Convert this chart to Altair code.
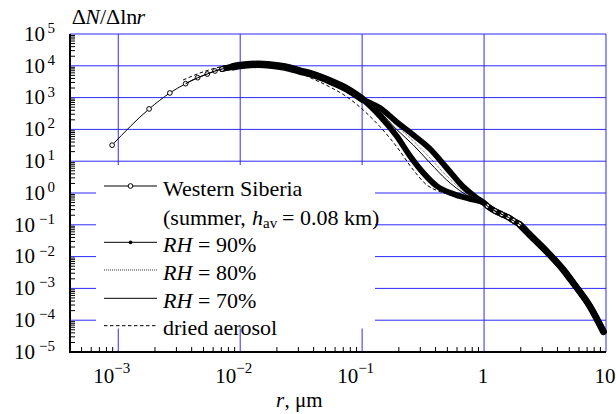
import altair as alt
import pandas as pd

# Plot-area size in pixels
W, H = 536, 318
FONT = "'Liberation Serif', 'Times New Roman', Times, serif"
BLUE = "#2b2bff"

# ---- size distributions: radius r (µm) and ΔN/Δln r ----
# Western Siberia, first (well separated) measurement points
ws_head_r = [0.00089, 0.00179, 0.00265, 0.00357, 0.00448, 0.00537, 0.00621, 0.00710]
ws_head_n = [32, 440, 1400, 2740, 4230, 5520, 6860, 7920]

# branch shared by the measured and the humidified spectra (r <= 0.1 µm)
core_r = [0.00873, 0.0109, 0.0140, 0.0176, 0.0233, 0.0309, 0.0396, 0.0545, 0.0752, 0.100]
core_n = [9380, 10600, 11100, 10600, 9160, 6860, 5320, 3330, 1860, 904]

# Western Siberia between 0.1 and 1 µm
ws_mid_r = [0.140, 0.192, 0.247, 0.318, 0.409, 0.560, 0.767]
ws_mid_n = [264, 62, 14.6, 4.26, 1.66, 0.93, 0.65]

# humidified spectra between 0.1 and 1 µm
rh_mid_r = [0.140, 0.192, 0.263, 0.361, 0.494, 0.676, 0.871]
rh90_mid_n = [471, 171, 66.7, 24.2, 6.11, 1.55, 0.697]
rh80_mid_n = [407, 128, 43.2, 12.6, 3.43, 1.16, 0.65]
rh70_mid_n = [352, 99, 32.3, 8.77, 2.56, 1.0, 0.60]

# coarse mode, common to all curves (r >= 1 µm)
tail_r = [1.0, 1.064, 1.23, 1.397, 1.58, 1.74, 1.95, 2.38, 3.27, 4.48, 5.41, 7.41, 9.53]
tail_n = [0.485, 0.390, 0.272, 0.214, 0.172, 0.135, 0.104, 0.0478, 0.0143,
          0.00379, 0.00145, 0.000266, 0.0000435]

# dried aerosol
dry_r = [0.00340, 0.00468, 0.00682, 0.00995, 0.0140, 0.0193, 0.0282, 0.0396, 0.0545,
         0.0752, 0.102, 0.140, 0.192, 0.263, 0.339, 0.436, 0.676, 1.0]
dry_n = [3575, 5940, 9170, 11400, 11800, 10600, 6860, 3850, 2150,
         1045, 407, 122, 28.6, 5.29, 1.79, 1.10, 0.733, 0.521]

# ---- axes: decades and minor ticks ----
x_decades = [0.001, 0.01, 0.1, 1, 10]
x_exp_pos = [0.001, 0.01, 0.1]
x_exp_lab = ["\u22123", "\u22122", "\u22121"]
x_plain_pos = [1, 10]
x_plain_lab = ["1", "10"]
y_exps = list(range(-5, 6))
x_minor = [k * 10.0 ** d for d in range(-4, 1) for k in range(2, 10) if 4.02e-4 < k * 10.0 ** d < 10]
y_minor = [k * 10.0 ** d for d in range(-5, 5) for k in range(2, 10)]


def frame(r, n):
    return pd.DataFrame({"r": r, "n": n})


ws_df = frame(ws_head_r + core_r + ws_mid_r + tail_r, ws_head_n + core_n + ws_mid_n + tail_n)
rh_r = ws_head_r[3:] + core_r + rh_mid_r + tail_r
rh90_df = frame(rh_r, ws_head_n[3:] + core_n + rh90_mid_n + tail_n)
rh80_df = frame(rh_r, ws_head_n[3:] + core_n + rh80_mid_n + tail_n)
rh70_df = frame(rh_r, ws_head_n[3:] + core_n + rh70_mid_n + tail_n)
dry_df = frame(dry_r + tail_r[1:], dry_n + tail_n[1:])

xs = alt.Scale(type="log", domain=[4.02e-4, 10], nice=False)
ys = alt.Scale(type="log", domain=[1e-5, 1e5], nice=False)


def X(f="r"):
    return alt.X(f"{f}:Q", scale=xs, axis=None)


def Y(f="n"):
    return alt.Y(f"{f}:Q", scale=ys, axis=None)


one = pd.DataFrame({"k": [0]})


def txt(s, x, y, size=22, style="normal", align="left"):
    return alt.Chart(one).mark_text(
        text=s, font=FONT, fontSize=size, fontStyle=style, align=align,
        baseline="alphabetic", color="black"
    ).encode(x=alt.value(x), y=alt.value(y))


# grid
grid_v = alt.Chart(pd.DataFrame({"v": x_decades})).mark_rule(color=BLUE, strokeWidth=1).encode(x=X("v"))
grid_h = alt.Chart(pd.DataFrame({"v": [10.0 ** e for e in y_exps if e > -5]})).mark_rule(
    color=BLUE, strokeWidth=1).encode(y=Y("v"))

# legend background
legend_box = alt.Chart(one).mark_rect(fill="white").encode(
    x=alt.value(26), x2=alt.value(305), y=alt.value(131), y2=alt.value(294.5))

# inward minor ticks and the black axis lines
tick_x = alt.Chart(pd.DataFrame({"v": x_minor})).mark_rule(color="black", strokeWidth=1).encode(
    x=X("v"), y=alt.value(H - 5), y2=alt.value(H))
tick_y = alt.Chart(pd.DataFrame({"v": y_minor})).mark_rule(color="black", strokeWidth=1).encode(
    y=Y("v"), x=alt.value(0), x2=alt.value(5))
axis_l = alt.Chart(one).mark_rule(color="black", strokeWidth=2).encode(
    x=alt.value(0), y=alt.value(0), y2=alt.value(H + 1))
axis_b = alt.Chart(one).mark_rule(color="black", strokeWidth=2).encode(
    y=alt.value(H), x=alt.value(-1), x2=alt.value(W))

# curves (densely plotted markers merge into thick bands)
smooth = "monotone"


def band(width):
    return dict(color="black", strokeWidth=width, strokeJoin="round", strokeCap="round",
                interpolate=smooth)


rh90_band = alt.Chart(rh90_df).transform_filter("datum.r >= 0.007").mark_line(**band(5.8)).encode(X(), Y())
ws_band = alt.Chart(ws_df).transform_filter("datum.r >= 0.007").mark_line(**band(5.8)).encode(X(), Y())
# where several spectra overlap, the marker band is wider
core_band = alt.Chart(ws_df).transform_filter("datum.r >= 0.0087 && datum.r <= 0.1").mark_line(
    **band(7.5)).encode(X(), Y())
tail_band = alt.Chart(ws_df).transform_filter("datum.r >= 1.9").mark_line(**band(6.8)).encode(X(), Y())
ws_line = alt.Chart(ws_df).mark_line(color="black", strokeWidth=1, interpolate=smooth).encode(X(), Y())
ws_pts = alt.Chart(ws_df).transform_filter(
    "datum.r < 0.0075 || (datum.r > 1.01 && datum.r < 2)"
).mark_circle(fill="white", stroke="black", strokeWidth=1, size=22, opacity=1).encode(X(), Y())
rh80_line = alt.Chart(rh80_df).mark_line(
    color="#222", strokeWidth=0.8, strokeDash=[1, 1], interpolate=smooth).encode(X(), Y())
rh70_line = alt.Chart(rh70_df).mark_line(color="black", strokeWidth=1, interpolate=smooth).encode(X(), Y())
dry_line = alt.Chart(dry_df).mark_line(
    color="black", strokeWidth=1, strokeDash=[3.5, 2.5], interpolate=smooth).encode(X(), Y())

# legend
LX0, LX1, LTX = 34, 87, 93
rows = [152, 208.3, 236, 264.3, 291.7]


def seg(y, **kw):
    return alt.Chart(one).mark_rule(color="black", **kw).encode(
        x=alt.value(LX0), x2=alt.value(LX1), y=alt.value(y))


leg = [
    seg(rows[0], strokeWidth=1),
    alt.Chart(one).mark_circle(fill="white", stroke="black", strokeWidth=1, size=22, opacity=1).encode(
        x=alt.value((LX0 + LX1) / 2), y=alt.value(rows[0])),
    txt("Western Siberia", LTX, rows[0] + 9.5),
    txt("(summer,", LTX, 191),
    txt("h", LTX + 89, 191, style="italic"),
    txt("av", LTX + 100, 193.5, size=15),
    txt("= 0.08 km)", LTX + 119, 191),
    seg(rows[1], strokeWidth=1),
    alt.Chart(one).mark_circle(color="black", size=14, opacity=1).encode(
        x=alt.value((LX0 + LX1) / 2), y=alt.value(rows[1])),
    txt("RH", LTX, rows[1] + 9.5, style="italic"),
    txt("= 90%", LTX + 35, rows[1] + 9.5),
    seg(rows[2], strokeWidth=0.8, strokeDash=[1, 1]),
    txt("RH", LTX, rows[2] + 9.5, style="italic"),
    txt("= 80%", LTX + 35, rows[2] + 9.5),
    seg(rows[3], strokeWidth=1),
    txt("RH", LTX, rows[3] + 9.5, style="italic"),
    txt("= 70%", LTX + 35, rows[3] + 9.5),
    seg(rows[4], strokeWidth=1, strokeDash=[3.5, 2.5]),
    txt("dried aerosol", LTX, rows[4] + 9.5),
]

# tick labels
ylab = pd.DataFrame({"v": [10.0 ** e for e in y_exps], "e": y_exps,
                     "lab": [str(e).replace("-", "\u2212") for e in y_exps]})
lab_style = dict(font=FONT, color="black", baseline="alphabetic")
y_base_pos = alt.Chart(ylab).transform_filter("datum.e >= 0").mark_text(
    text="10", align="right", dy=6.7, fontSize=21, **lab_style).encode(x=alt.value(-25), y=Y("v"))
y_base_neg = alt.Chart(ylab).transform_filter("datum.e < 0").mark_text(
    text="10", align="right", dy=6.7, fontSize=21, **lab_style).encode(x=alt.value(-35), y=Y("v"))
y_exp = alt.Chart(ylab).mark_text(align="right", dy=-1, fontSize=15, **lab_style).encode(
    x=alt.value(-15), y=Y("v"), text="lab:N")

xlab = pd.DataFrame({"v": x_exp_pos, "lab": x_exp_lab})
x_base = alt.Chart(xlab).mark_text(text="10", align="right", dx=-4, fontSize=21, **lab_style).encode(
    x=X("v"), y=alt.value(H + 30.5))
x_exp = alt.Chart(xlab).mark_text(align="left", dx=-4, fontSize=15, **lab_style).encode(
    x=X("v"), y=alt.value(H + 21), text="lab:N")
x_plain = alt.Chart(pd.DataFrame({"v": x_plain_pos, "lab": x_plain_lab})).mark_text(
    align="center", dx=-1, fontSize=21, **lab_style).encode(x=X("v"), y=alt.value(H + 30.5), text="lab:N")

# axis titles
titles = [
    txt("\u0394", 1.7, -10),
    txt("N", 15.2, -10, style="italic"),
    txt("/\u0394ln", 29.9, -10),
    txt("r", 66.6, -10, style="italic"),
    txt("r", 206, H + 55, size=21, style="italic"),
    txt(", \u03bcm", 214.5, H + 55, size=21),
]

chart = alt.layer(
    grid_v, grid_h, legend_box, tick_x, tick_y,
    rh90_band, ws_band, core_band, tail_band, ws_line, ws_pts, rh80_line, rh70_line, dry_line,
    axis_l, axis_b,
    *leg,
    y_base_pos, y_base_neg, y_exp, x_base, x_exp, x_plain,
    *titles,
).properties(
    width=W, height=H,
    padding={"left": 70, "top": 34, "right": 10, "bottom": 62},
    autosize=alt.AutoSizeParams(type="none"),
    background="white",
).configure_view(stroke=None)

chart.save("out.html", embed_options={"renderer": "svg", "actions": False})
